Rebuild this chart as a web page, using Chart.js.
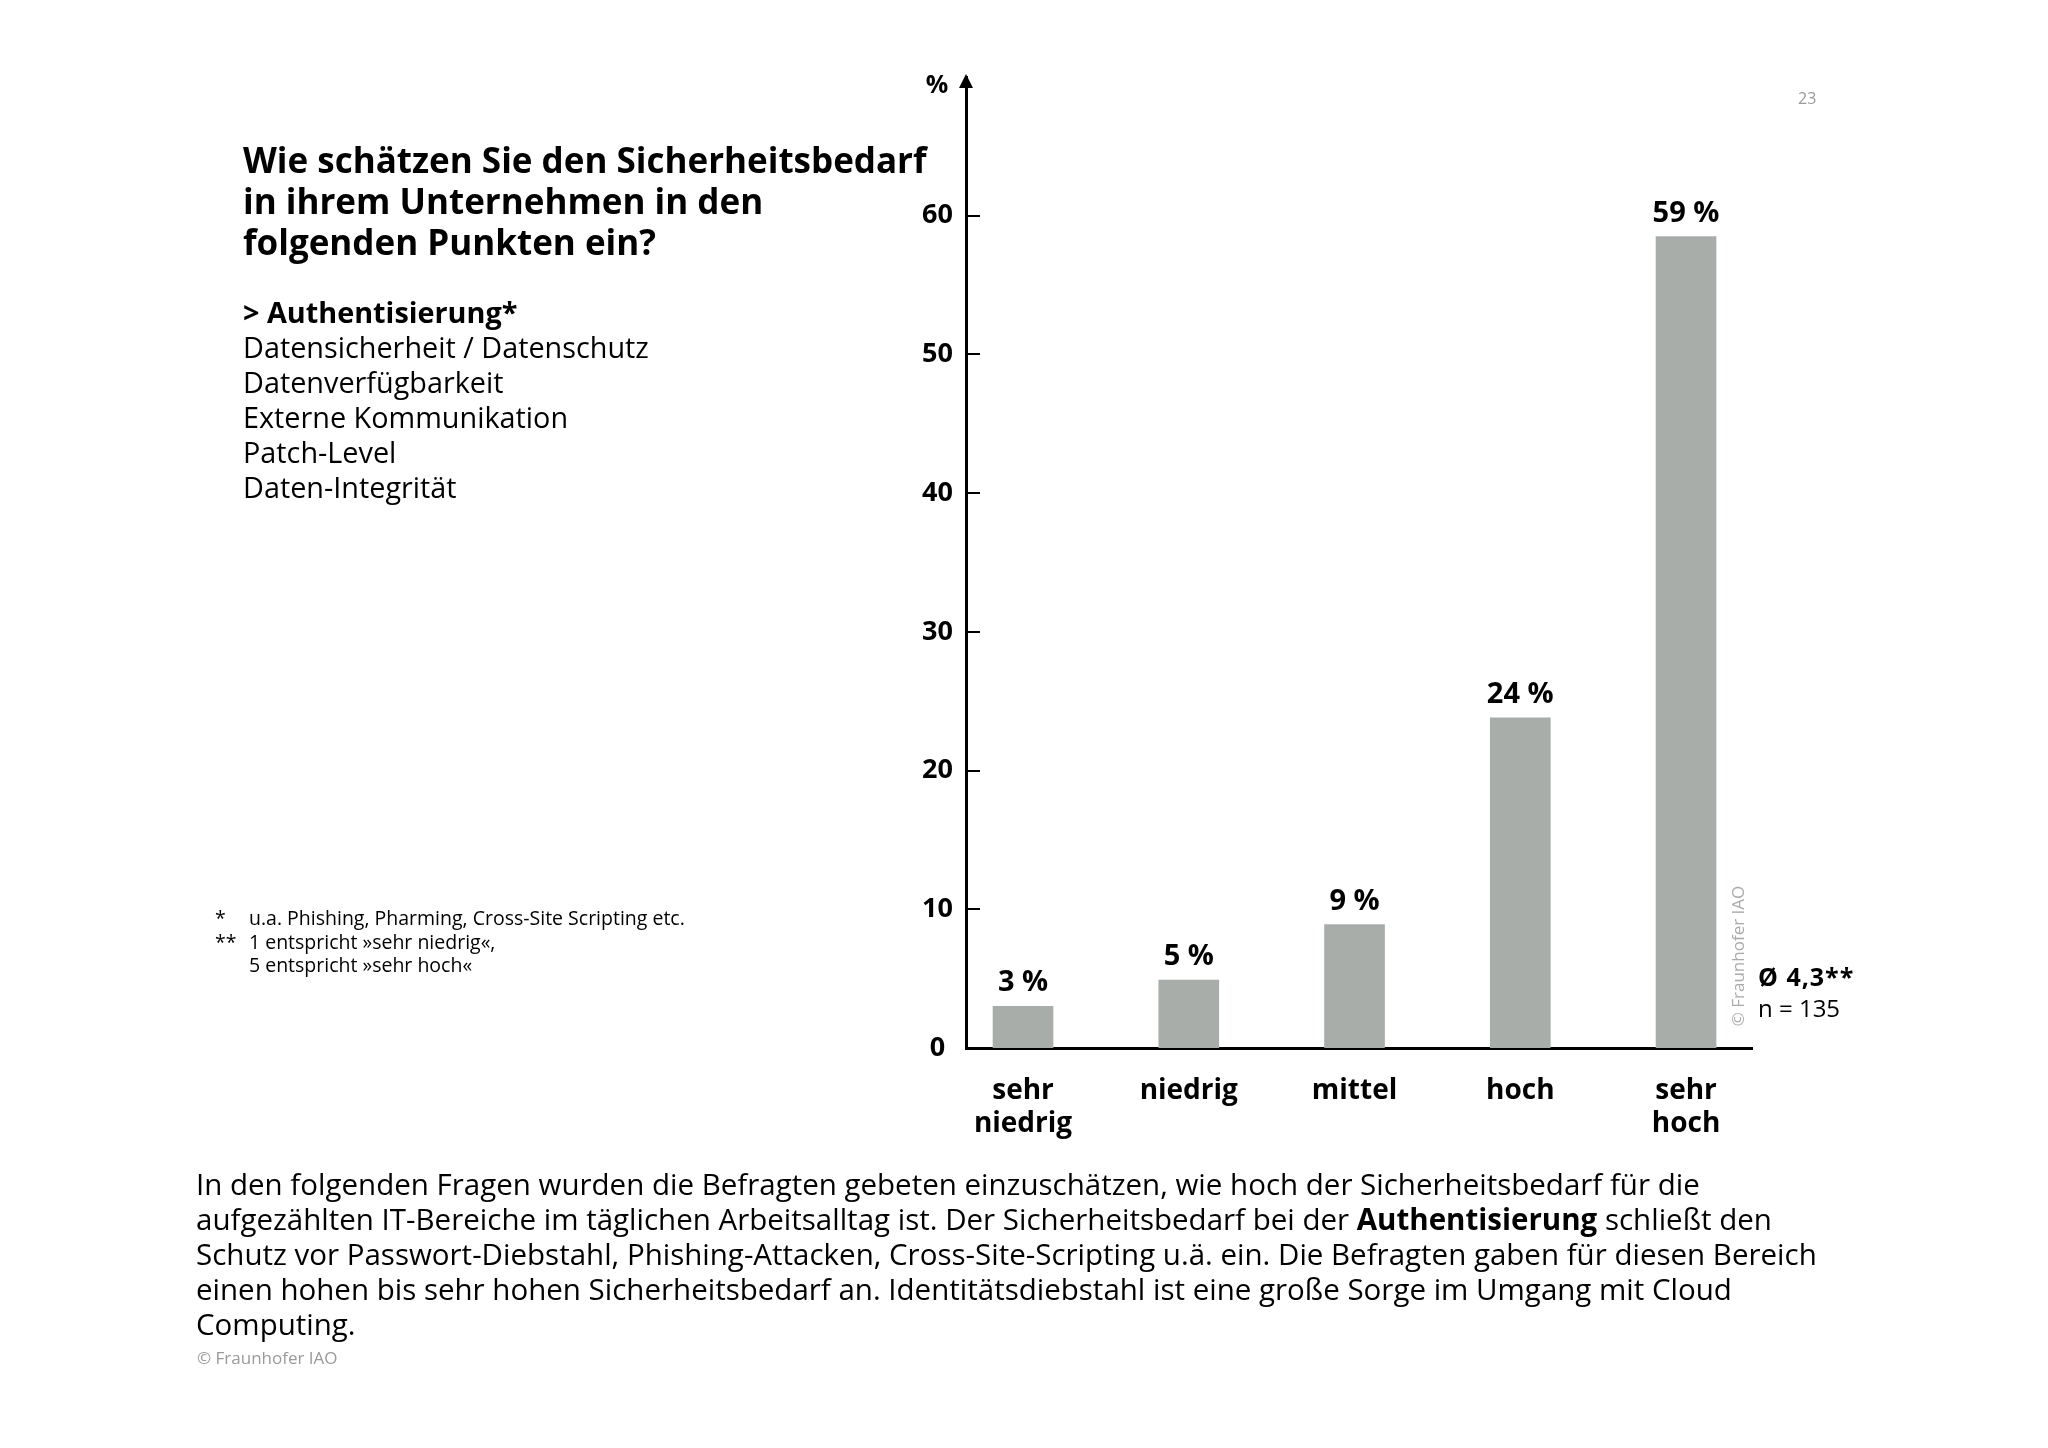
<!DOCTYPE html>
<html lang="de">
<head>
<meta charset="utf-8">
<title>Sicherheitsbedarf Authentisierung</title>
<script src="https://cdn.jsdelivr.net/npm/chart.js@4"></script>
<style>
  html, body { margin: 0; padding: 0; background: #fff; }
  body { width: 2048px; height: 1448px; position: relative; overflow: hidden; font-family: 'Open Sans', sans-serif; color: #000; }
  #chart { position: absolute; left: 0; top: 0; }
  .txt { position: absolute; white-space: nowrap; }
  .title { left: 243px; top: 139px; font-size: 35px; line-height: 41px; font-weight: 700; }
  .list { left: 243px; top: 294px; font-size: 28.8px; line-height: 35px; }
  .notes { left: 215px; top: 906px; font-size: 19.5px; line-height: 23.5px; }
  .notes span { display: inline-block; width: 34px; }
  .body { left: 196px; top: 1166px; font-size: 29.5px; line-height: 35px; }
  .copy { left: 197px; top: 1348px; font-size: 17px; line-height: 20px; color: #9a9a9a; }
  .page { left: 1798px; top: 88px; font-size: 16px; line-height: 20px; color: #9a9a9a; }
  .avg { left: 1758px; top: 961px; font-size: 25px; line-height: 30px; font-weight: 700; letter-spacing: 1px; }
  .n { left: 1758px; top: 993px; font-size: 24px; line-height: 30px; }
  .vcopy { left: 1738px; top: 956px; font-size: 17px; line-height: 20px; color: #aaaaaa; transform: translate(-50%, -50%) rotate(-90deg); }
</style>
</head>
<body>
<canvas id="chart" width="2048" height="1448"></canvas>

<div class="txt title">Wie schätzen Sie den Sicherheitsbedarf<br>in ihrem Unternehmen in den<br>folgenden Punkten ein?</div>
<div class="txt list"><b>&gt; Authentisierung*</b><br>Datensicherheit / Datenschutz<br>Datenverfügbarkeit<br>Externe Kommunikation<br>Patch-Level<br>Daten-Integrität</div>
<div class="txt notes"><span>*</span>u.a. Phishing, Pharming, Cross-Site Scripting etc.<br><span>**</span>1 entspricht »sehr niedrig«,<br><span></span>5 entspricht »sehr hoch«</div>
<div class="txt body">In den folgenden Fragen wurden die Befragten gebeten einzuschätzen, wie hoch der Sicherheitsbedarf für die<br>aufgezählten IT-Bereiche im täglichen Arbeitsalltag ist. Der Sicherheitsbedarf bei der <b>Authentisierung</b> schließt den<br>Schutz vor Passwort-Diebstahl, Phishing-Attacken, Cross-Site-Scripting u.ä. ein. Die Befragten gaben für diesen Bereich<br>einen hohen bis sehr hohen Sicherheitsbedarf an. Identitätsdiebstahl ist eine große Sorge im Umgang mit Cloud<br>Computing.</div>
<div class="txt copy">© Fraunhofer IAO</div>
<div class="txt page">23</div>
<div class="txt avg">Ø 4,3**</div>
<div class="txt n">n = 135</div>
<div class="txt vcopy">© Fraunhofer IAO</div>

<script>
// values (percent of respondents)
const categories = ['sehr niedrig', 'niedrig', 'mittel', 'hoch', 'sehr hoch'];
const shares = [3.0, 4.9, 8.9, 23.8, 58.5];
const shareLabels = ['3 %', '5 %', '9 %', '24 %', '59 %'];
const yTicks = [0, 10, 20, 30, 40, 50, 60];

const barColor = '#a9adaa';
const labelFont = "'Open Sans', sans-serif";

// small tick marks right of the axis, the arrow head and the "%" unit
const axisDecor = {
  id: 'axisDecor',
  afterDraw(chart) {
    const ctx = chart.ctx;
    const y = chart.scales.y;
    const area = chart.chartArea;
    const x0 = area.left;
    ctx.save();
    ctx.strokeStyle = '#000';
    ctx.lineWidth = 2;
    yTicks.forEach(function (v) {
      if (v === 0) {
        return;
      }
      const py = Math.round(y.getPixelForValue(v));
      ctx.beginPath();
      ctx.moveTo(x0, py);
      ctx.lineTo(x0 + 14, py);
      ctx.stroke();
    });
    ctx.fillStyle = '#000';
    ctx.beginPath();
    ctx.moveTo(x0, area.top - 3);
    ctx.lineTo(x0 - 7, area.top + 11);
    ctx.lineTo(x0 + 7, area.top + 11);
    ctx.closePath();
    ctx.fill();
    ctx.font = 'bold 25px ' + labelFont;
    ctx.textAlign = 'center';
    ctx.textBaseline = 'middle';
    ctx.fillText('%', x0 - 29, area.top + 9);
    ctx.restore();
  }
};

// value labels above the bars
const barLabels = {
  id: 'barLabels',
  afterDatasetsDraw(chart) {
    const ctx = chart.ctx;
    const meta = chart.getDatasetMeta(0);
    ctx.save();
    ctx.font = 'bold 29px ' + labelFont;
    ctx.fillStyle = '#000';
    ctx.textAlign = 'center';
    ctx.textBaseline = 'alphabetic';
    meta.data.forEach(function (bar, i) {
      ctx.fillText(shareLabels[i], bar.x, bar.y - 15);
    });
    ctx.restore();
  }
};

new Chart(document.getElementById('chart'), {
  type: 'bar',
  data: {
    datasets: [
      {
        label: 'Anteil',
        data: shares.map(function (v, i) { return { x: i + 1, y: v }; }),
        backgroundColor: barColor,
        borderWidth: 0,
        barThickness: 60
      }
    ]
  },
  options: {
    responsive: false,
    animation: false,
    devicePixelRatio: 1,
    events: [],
    layout: {
      padding: { left: 896, right: 296, top: 77, bottom: 280 }
    },
    plugins: {
      legend: { display: false },
      tooltip: { enabled: false }
    },
    scales: {
      x: {
        type: 'linear',
        offset: false,
        min: 0.656,
        max: 5.398,
        afterBuildTicks(scale) {
          scale.ticks = categories.map(function (c, i) { return { value: i + 1 }; });
        },
        afterFit(scale) {
          scale.height = 120;
        },
        grid: { display: false, drawTicks: false, offset: false },
        border: { display: true, color: '#000', width: 3 },
        ticks: {
          autoSkip: false,
          maxRotation: 0,
          padding: 27,
          color: '#000',
          font: { family: labelFont, size: 28, weight: 'bold', lineHeight: 1.16 },
          callback(value) {
            const c = categories[Math.round(value) - 1];
            return c ? c.split(' ') : '';
          }
        }
      },
      y: {
        min: 0,
        max: 70,
        afterBuildTicks(scale) {
          scale.ticks = yTicks.map(function (v) { return { value: v }; });
        },
        afterFit(scale) {
          scale.width = 70;
        },
        grid: { display: false, drawTicks: false },
        border: { display: true, color: '#000', width: 3 },
        ticks: {
          crossAlign: 'center',
          padding: 13,
          color: '#000',
          font: { family: labelFont, size: 27, weight: 'bold' }
        }
      }
    }
  },
  plugins: [axisDecor, barLabels]
});
</script>
</body>
</html>
